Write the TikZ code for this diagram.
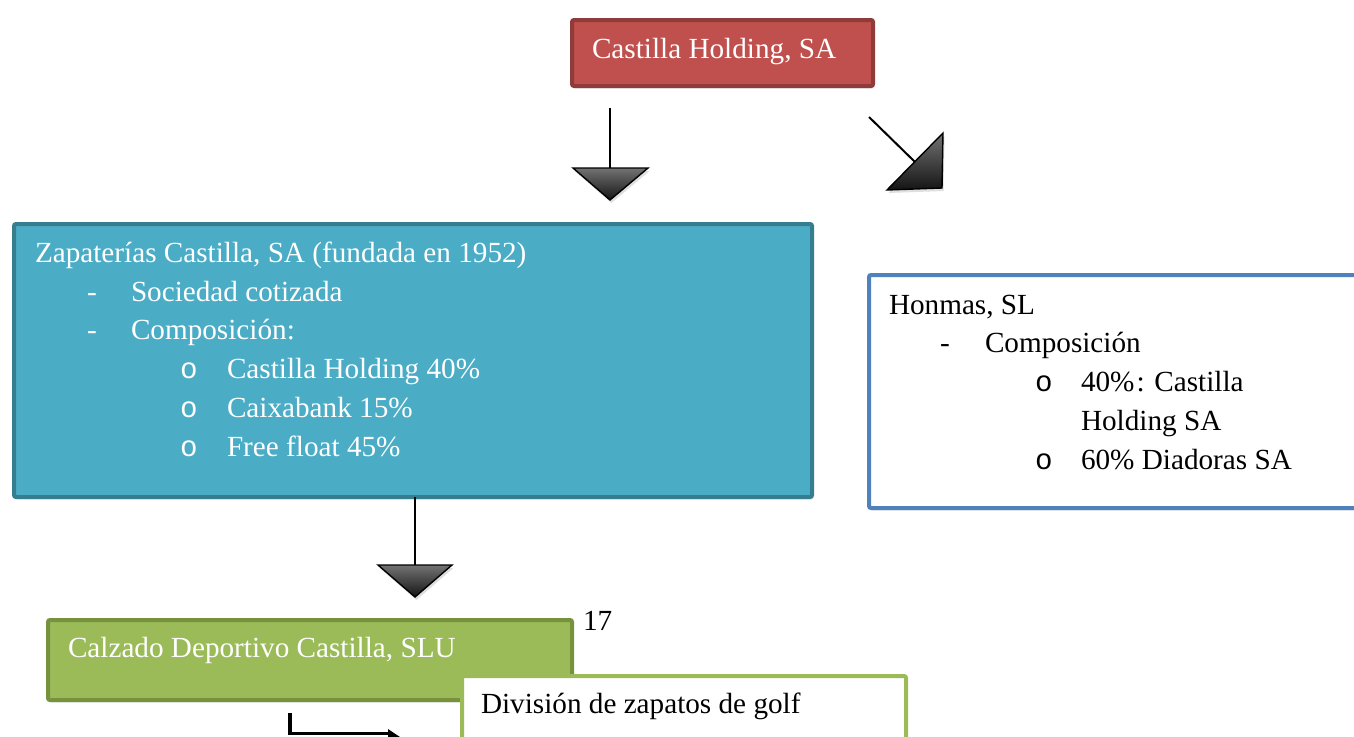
\documentclass[tikz,border=0pt]{standalone}
\usepackage{fontspec}
\setmainfont{Liberation Serif}
\newfontfamily\monofam{Liberation Mono}
\usetikzlibrary{shadows}
\definecolor{redfill}{HTML}{C0504D}
\definecolor{redline}{HTML}{8E3B39}
\definecolor{bluefill}{HTML}{4BACC6}
\definecolor{blueline}{HTML}{367D8F}
\definecolor{greenfill}{HTML}{9BBB59}
\definecolor{greenline}{HTML}{76923C}
\definecolor{honline}{HTML}{4F81BD}
\begin{document}
\begin{tikzpicture}[x=1pt,y=-1pt,
  txt/.style={anchor=base west, inner sep=0pt, outer sep=0pt, font=\fontsize{29.2}{39}\selectfont},
  wtxt/.style={txt, text=white},
  bul/.style={txt, font=\fontsize{29.2}{39}\monofam},
  wbul/.style={bul, text=white},
  box/.style={rectangle, rounded corners=2pt, line width=4pt, inner sep=0pt, anchor=north west,
    drop shadow={opacity=0.18, shadow xshift=1.5pt, shadow yshift=-2.5pt}},
  shaft/.style={line width=2pt, draw=black},
  headtri/.style={draw=black, line width=1.4pt, line join=miter, top color=black!55, bottom color=black!92,
    drop shadow={opacity=0.25, shadow xshift=1.5pt, shadow yshift=-3pt}},
]
\clip (0,0) rectangle (1354,736);
\fill[white] (0,0) rectangle (1354,736);

% boxes
\node[box, fill=redfill, draw=redline, minimum width=301pt, minimum height=66pt] (hold) at (570,18) {};
\node[box, fill=bluefill, draw=blueline, minimum width=798pt, minimum height=273pt] (zap) at (12,222) {};
\node[box, fill=white, draw=honline, minimum width=513pt, minimum height=233pt] (hon) at (867,273) {};
\node[box, fill=greenfill, draw=greenline, minimum width=524pt, minimum height=80pt] (calz) at (46,618) {};
\node[box, fill=white, draw=greenfill, minimum width=444pt, minimum height=106pt] (golf) at (460,674) {};

% texts
\node[wtxt] (tHold) at (592,58) {Castilla Holding, SA};

\node[wtxt] (tZ0) at (35,262) {Zapaterías Castilla, SA (fundada en 1952)};
\node[wtxt] (tZd1) at (87,301) {-};
\node[wtxt] (tZ1) at (131,301) {Sociedad cotizada};
\node[wtxt] (tZd2) at (87,339) {-};
\node[wtxt] (tZ2) at (131,339) {Composición:};
\node[wbul] (tZo1) at (180,378) {o};
\node[wtxt] (tZ3) at (227,378) {Castilla Holding 40\%};
\node[wbul] (tZo2) at (180,417) {o};
\node[wtxt] (tZ4) at (227,417) {Caixabank 15\%};
\node[wbul] (tZo3) at (180,456) {o};
\node[wtxt] (tZ5) at (227,456) {Free float 45\%};

\node[txt] (tH0) at (889,314) {Honmas, SL};
\node[txt] (tHd) at (940,352) {-};
\node[txt] (tH1) at (985,352) {Composición};
\node[bul] (tHo1) at (1035,391) {o};
\node[txt] (tH2) at (1081,391) {40\%\kern2pt: Castilla};
\node[txt] (tH3) at (1081,430) {Holding SA};
\node[bul] (tHo2) at (1035,469) {o};
\node[txt] (tH4) at (1081,469) {60\% Diadoras SA};

\node[wtxt] (tCalz) at (68,657) {Calzado Deportivo Castilla, SLU};
\node[txt] (tNum) at (583,630) {17};
\node[txt] (tGolf) at (481,713) {División de zapatos de golf};

% arrow 1: holding -> zapaterias
\coordinate (a1s) at (610,108);
\coordinate (a1e) at (610,168);
\draw[shaft] (a1s) -- (a1e);
\filldraw[headtri] (a1e) +(-37,0) -- +(38,0) -- +(0,32) -- cycle;

% arrow 2: holding -> honmas
\coordinate (a2s) at (869,117);
\coordinate (a2e) at (915,162);
\draw[shaft] (a2s) -- (a2e);
\filldraw[headtri] (887,190) -- (943,133) -- (942,188) -- cycle;

% arrow 3: zapaterias -> calzado
\coordinate (a3s) at (415,497);
\coordinate (a3e) at (415,565);
\draw[shaft] (a3s) -- (a3e);
\filldraw[headtri] (a3e) +(-37,0) -- +(37,0) -- +(0,32) -- cycle;

% bent arrow
\coordinate (b1) at (290,713);
\coordinate (b2) at (290,733.5);
\coordinate (b3) at (390,733.5);
\draw[line width=3.5pt, black] (b1) -- (b2) -- (b3);
\fill[black] (388,729) -- (412,745) -- (388,761) -- cycle;
\end{tikzpicture}
\end{document}
